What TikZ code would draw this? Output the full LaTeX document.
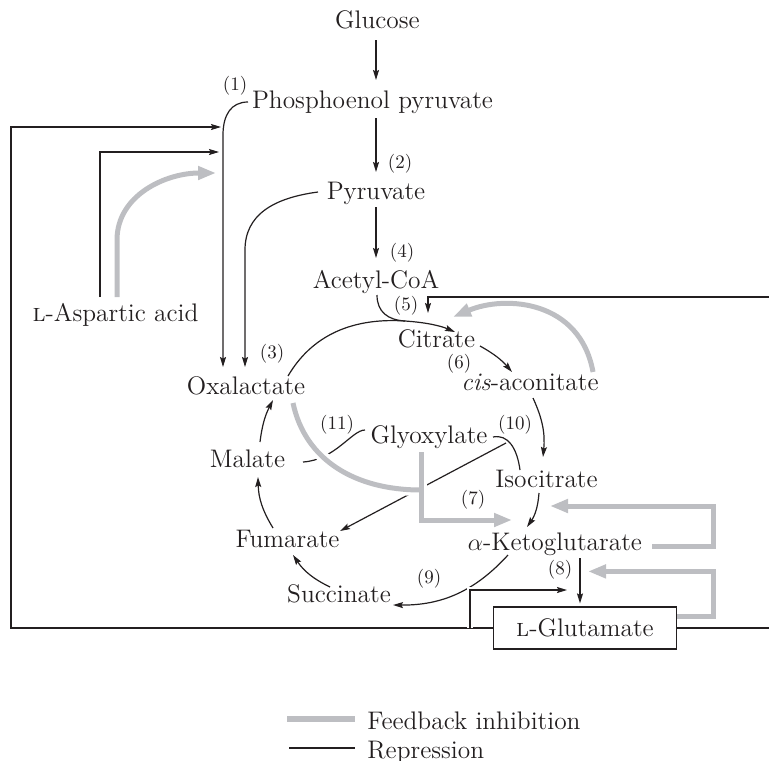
\documentclass[tikz,border=0pt]{standalone}
\usetikzlibrary{arrows.meta,calc}
\definecolor{inhgray}{RGB}{189,190,194}
\definecolor{ink}{RGB}{35,31,32}
\begin{document}
\begin{tikzpicture}[x=0.5pt,y=-0.5pt,
  lbl/.style={font=\fontsize{12.7}{15}\selectfont, inner sep=0pt, anchor=base, text=ink},
  num/.style={font=\fontsize{9.5}{11}\selectfont, inner sep=0pt, text=ink},
  ln/.style={draw=ink, line width=0.6pt},
  rx/.style={ln, -{Stealth[length=5pt,width=3pt,inset=0.8pt]}},
  inh/.style={draw=inhgray, line width=2.5pt, -{Triangle[length=9pt,width=6.5pt]}},
  inhline/.style={draw=inhgray, line width=2.5pt},
  whiteout/.style={draw=white, line width=6pt},
  gapn/.style={preaction={draw=white, line width=3pt, -}},
  boxed/.style={draw=ink, line width=0.6pt, minimum width=91.5pt, minimum height=21pt, inner sep=0pt, font=\fontsize{12.7}{15}\selectfont, text=ink}
]
\useasboundingbox (0,0) rectangle (769,760);

% ---- metabolites
\node[lbl] (glu) at (377.5,28) {Glucose};
\node[lbl] (pep) at (372.5,108) {Phosphoenol pyruvate};
\node[lbl] (pyr) at (376,199) {Pyruvate};
\node[lbl] (acc) at (376,288) {Acetyl-CoA};
\node[lbl] (cit) at (436.5,347) {Citrate};
\node[lbl] (cis) at (530,390) {\emph{cis}-aconitate};
\node[lbl] (oxa) at (246,394) {Oxalactate};
\node[lbl] (gly) at (429,443) {Glyoxylate};
\node[lbl] (mal) at (247.5,467) {Malate};
\node[lbl] (iso) at (546.5,487) {Isocitrate};
\node[lbl] (akg) at (555,550) {$\alpha$-Ketoglutarate};
\node[lbl] (fum) at (287.5,547) {Fumarate};
\node[lbl] (suc) at (339,602) {Succinate};
\node[lbl] (asp) at (115.5,321) {\textsc{l}-Aspartic acid};
\node[boxed] (glut) at (585,628) {\textsc{l}-Glutamate};

% ---- reaction numbers
\node[num] (n1) at (235,86) {(1)};
\node[num] (n2) at (400,164) {(2)};
\node[num] (n4) at (402,253) {(4)};
\node[num] (n5) at (406,306) {(5)};
\node[num] (n3) at (272,354) {(3)};
\node[num] (n6) at (459,364) {(6)};
\node[num] (n10) at (515,425) {(10)};
\node[num] (n11) at (337,425) {(11)};
\node[num] (n7) at (473,500) {(7)};
\node[num] (n8) at (560,570) {(8)};
\node[num] (n9) at (429,579) {(9)};

% ---- helper coordinates (reaction sites and line corners)
\coordinate (rA) at (221,127);
\coordinate (rB) at (219,152);
\coordinate (rC) at (216,173);
\coordinate (pepc) at (223,135);
\coordinate (pyrc) at (245,250);
\coordinate (mrg) at (405,321);
\coordinate (repL) at (11,628);
\coordinate (repB) at (470,628);
\coordinate (r8) at (567,590);
\coordinate (repR) at (769,628);
\coordinate (repT) at (769,297);
\coordinate (r5) at (428,313);

% ---- main pathway
\draw[rx] ([shift={(-1.5,12)}]glu.base) -- ([shift={(3.5,-28)}]pep.base);
\draw[rx] ([shift={(3.5,10)}]pep.base) -- ([shift={(0,-27)}]pyr.base);
\draw[rx] ([shift={(0,8)}]pyr.base) -- ([shift={(0,-30)}]acc.base);

% (1) PEP -> oxalacetate
\draw[rx] ([shift={(-124.5,-6)}]pep.base) .. controls +(-17,0) and +(0,-20) .. (pepc) -- ([shift={(-23,-27)}]oxa.base);
% (3) pyruvate -> oxalacetate
\draw[rx] ([shift={(-58,-7)}]pyr.base) .. controls +(-45,6) and +(0,-35) .. (pyrc) -- ([shift={(-1,-27)}]oxa.base);

% (5) oxalacetate + acetyl-CoA -> citrate
\draw[ln] ([shift={(1,7)}]acc.base) .. controls +(0,17) and +(-17,-1) .. (mrg);
\draw[rx] ([shift={(42,-18)}]oxa.base) .. controls +(27,-46) and +(-45,-3) .. (mrg)
          .. controls +(22,1.5) and +(-14,-6) .. ([shift={(18.5,-15)}]cit.base);

% TCA cycle
\draw[rx] ([shift={(43.5,-1)}]cit.base) to[bend left=10] ([shift={(-18,-18)}]cis.base);
\draw[rx] ([shift={(3,8)}]cis.base) to[bend left=15] ([shift={(-3.5,-30)}]iso.base);
\draw[rx] ([shift={(-7.5,6)}]iso.base) to[bend left=15] ([shift={(-28,-23)}]akg.base);
\draw[rx] ([shift={(-47,5)}]akg.base) to[bend left=24] ([shift={(54,3)}]suc.base);
\draw[rx] ([shift={(-9,-15)}]suc.base) to[bend left=15] ([shift={(5.5,8)}]fum.base);
\draw[rx] ([shift={(-14.5,-19)}]fum.base) to[bend left=15] ([shift={(10.5,10)}]mal.base);
\draw[rx] ([shift={(12.5,-25)}]mal.base) to[bend left=10] ([shift={(27,6)}]oxa.base);

% glyoxylate shunt
\draw[ln] ([shift={(-64,-13)}]gly.base) .. controls +(-13,0) and +(32,-2) .. ([shift={(55.5,-5)}]mal.base);
\draw[ln] ([shift={(-26.5,-17)}]iso.base) .. controls +(-3,-22) and +(15,-3) .. ([shift={(64,-6)}]gly.base);
\draw[rx] ([shift={(77,0)}]gly.base) -- ([shift={(52.5,-16)}]fum.base);

% KG -> glutamate
\draw[rx] ([shift={(25,8)}]akg.base) -- ([shift={(-5,-3)}]glut.north);

% ---- repression lines
\draw[rx] (glut.west) -- (repL) |- (rA);
\draw[rx, gapn] (repB) |- (r8);
\draw[ln] (glut.east) -- (repR);
\draw[rx] (repT) -| (r5);
\draw[rx] ([shift={(-15.5,-24)}]asp.base) |- (rB);

% ---- feedback inhibition
\draw[inh] ([shift={(1.5,-24)}]asp.base) -- ++(0,-57) .. controls +(0,-45) and +(-50,0) .. (rC);
\draw[inh] ([shift={(63,-18)}]cis.base) .. controls +(-13,-72) and +(52,-22) .. ([shift={(16.5,-30)}]cit.base);
% white gaps where the grey lines cross black lines
\draw[whiteout] ([shift={(47,9)}]oxa.base) .. controls +(12,57) and +(-66,0) .. ([shift={(-8,47)}]gly.base);
\draw[whiteout] ([shift={(-8,9)}]gly.base) -- ([shift={(-8,70)}]gly.base);
\draw[inhline] ([shift={(47,9)}]oxa.base) .. controls +(12,57) and +(-66,0) .. ([shift={(-8,47)}]gly.base);
\draw[inh] ([shift={(-8,9)}]gly.base) |- ([shift={(-43,-30)}]akg.base);
\draw[inh] ([shift={(97,-4)}]akg.base) -- ++(61,0) |- ([shift={(-5,-44)}]akg.base);
\draw[inh] ([shift={(0,10)}]glut.north east) -- ++(36,0) |- ([shift={(3,-35)}]glut.north);

% ---- legend
\node[lbl, anchor=base west] (legF) at (367,729) {Feedback inhibition};
\node[lbl, anchor=base west] (legR) at (367,758) {Repression};
\draw[inhline, line width=3pt] ([shift={(-80,-10)}]legF.base west) -- ([shift={(-12,-10)}]legF.base west);
\draw[ln] ([shift={(-78,-10)}]legR.base west) -- ([shift={(-12,-10)}]legR.base west);
\end{tikzpicture}
\end{document}
